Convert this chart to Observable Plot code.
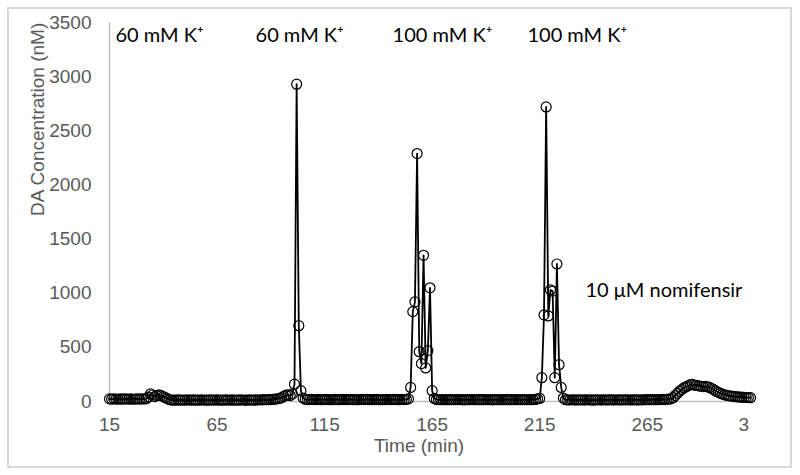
<!DOCTYPE html>
<html><head><meta charset="utf-8">
<script src="https://cdn.jsdelivr.net/npm/d3@7"></script>
<script src="https://cdn.jsdelivr.net/npm/@observablehq/plot@0.6"></script>
<style>
body{margin:0;background:#fff;}
#wrap{position:relative;width:800px;height:475px;overflow:hidden;}
#border{position:absolute;left:7px;top:7px;width:781px;height:457px;border:2px solid #d9d9d9;pointer-events:none;}
</style></head><body>
<div id="wrap"><div id="chart"></div><div id="border"></div></div>
<script>
// Sample times (min)
const times = [
 15,16,17,18,19,20,21,22,23,24,
 25,26,27,28,29,30,31,32,33,34,
 35,36,37,38,39,40,41,42,43,44,
 45,46,47,48,49,50,51,52,53,54,
 55,56,57,58,59,60,61,62,63,64,
 65,66,67,68,69,70,71,72,73,74,
 75,76,77,78,79,80,81,82,83,84,
 85,86,87,88,89,90,91,92,93,94,
 95,96,97,98,99,100,101,102,103,104,
 105,106,107,108,109,110,111,112,113,114,
 115,116,117,118,119,120,121,122,123,124,
 125,126,127,128,129,130,131,132,133,134,
 135,136,137,138,139,140,141,142,143,144,
 145,146,147,148,149,150,151,152,153,154,
 155,156,157,158,159,160,161,162,163,164,
 165,166,167,168,169,170,171,172,173,174,
 175,176,177,178,179,180,181,182,183,184,
 185,186,187,188,189,190,191,192,193,194,
 195,196,197,198,199,200,201,202,203,204,
 205,206,207,208,209,210,211,212,213,214,
 215,216,217,218,219,220,221,222,223,224,
 225,226,227,228,229,230,231,232,233,234,
 235,236,237,238,239,240,241,242,243,244,
 245,246,247,248,249,250,251,252,253,254,
 255,256,257,258,259,260,261,262,263,264,
 265,266,267,268,269,270,271,272,273,274,
 275,276,277,278,279,280,281,282,283,284,
 285,286,287,288,289,290,291,292,293,294,
 295,296,297,298,299,300,301,302,303,304,
 305,306,307,308,309,310,311,312,313
];
// DA concentration (nM)
const conc = [
 24,22,25,23,21,24,22,25,23,22,
 24,21,23,25,22,24,23,26,40,70,
 60,45,55,62,55,45,35,25,16,13,
 14,12,15,13,14,12,15,14,13,15,
 12,14,13,15,14,12,13,15,14,13,
 15,13,14,12,15,14,13,15,12,14,
 13,15,14,13,12,15,14,13,15,14,
 16,15,17,16,18,17,20,22,25,28,
 35,48,58,62,55,70,160,2930,700,100,
 32,20,18,17,19,18,17,19,18,17,
 18,19,17,18,16,19,18,17,18,19,
 17,18,19,17,18,16,18,19,17,18,
 19,17,18,17,19,18,16,18,17,19,
 18,17,19,18,17,18,19,17,20,24,
 130,830,920,2290,460,350,1350,310,470,1050,
 100,28,18,17,16,18,17,16,18,17,
 16,17,18,16,17,15,17,16,18,17,
 16,18,17,16,17,18,16,17,15,17,
 18,16,17,16,18,17,16,17,18,16,
 17,16,18,17,16,17,18,17,19,24,
 28,220,800,2720,790,1030,1020,220,1270,340,
 130,32,16,15,14,16,15,14,15,16,
 14,15,16,14,15,13,15,16,14,15,
 16,14,15,16,15,14,16,15,14,16,
 15,16,14,15,16,15,14,16,15,16,
 17,16,18,17,16,18,17,19,18,20,
 22,25,35,55,75,95,110,125,135,145,
 155,158,150,148,145,140,138,140,135,130,
 120,108,95,85,75,68,62,57,53,50,
 47,45,43,41,40,38,37,36,35
];
const yTicks = [0,500,1000,1500,2000,2500,3000,3500];
const xTicks = [15,65,115,165,215,265];
const xTickLabels = ["15","65","115","165","215","265"];
const xLastTick = [315];
const xLastLabel = ["3"];
const annoLabels = ["60 mM K\u207A","60 mM K\u207A","100 mM K\u207A","100 mM K\u207A","10 \u03BCM nomifensir"];
const annoTime = [17.8, 82.9, 146.6, 209.3, 236.3];
const annoConc = [3380, 3380, 3380, 3380, 1025];

const series = times.map((t, i) => ({t, c: conc[i]}));
const annos = annoLabels.map((label, i) => ({label, t: annoTime[i], c: annoConc[i]}));
const lastTick = xLastTick.map((t, i) => ({t, label: xLastLabel[i]}));
const grey = "#595959";
const sans = "'Liberation Sans', Arial, sans-serif";
const humanist = "Lato, 'Noto Sans', sans-serif";

const chart = Plot.plot({
  width: 800, height: 475,
  marginLeft: 109, marginRight: 50, marginTop: 22, marginBottom: 74,
  style: {fontFamily: sans, background: "white", overflow: "visible"},
  x: {domain: [15, 313]},
  y: {domain: [0, 3500]},
  marks: [
    Plot.ruleY([0], {stroke: "#bfbfbf", strokeWidth: 1.5}),
    Plot.ruleX([15], {stroke: "#bfbfbf", strokeWidth: 1.5}),
    Plot.axisY({ticks: yTicks, tickSize: 0, tickPadding: 18, fontSize: 19, fill: grey, label: null,
      tickFormat: d => String(d)}),
    Plot.axisX({ticks: xTicks, tickSize: 0, tickPadding: 16, fontSize: 19, fill: grey, label: null,
      tickFormat: d => xTickLabels[xTicks.indexOf(d)]}),
    Plot.text(lastTick, {x: "t", y: () => 0, text: "label", dx: -11, dy: 16, lineAnchor: "top", fontSize: 19, fill: grey}),
    Plot.text(["DA Concentration (nM)"], {frameAnchor: "left", dx: -72, dy: 4, rotate: -90, fontSize: 19, fill: grey}),
    Plot.text(["Time (min)"], {frameAnchor: "bottom", dx: -11, dy: 50, fontSize: 19, fill: grey}),
    Plot.line(series, {x: "t", y: "c", stroke: "black", strokeWidth: 1.8}),
    Plot.dot(series, {x: "t", y: "c", r: 5, stroke: "black", strokeWidth: 1.2, fill: "none"}),
    Plot.text(annos, {x: "t", y: "c", text: "label", textAnchor: "start", fontSize: 20, fill: "black", fontFamily: humanist})
  ]
});
document.getElementById("chart").appendChild(chart);
</script>
</body></html>
